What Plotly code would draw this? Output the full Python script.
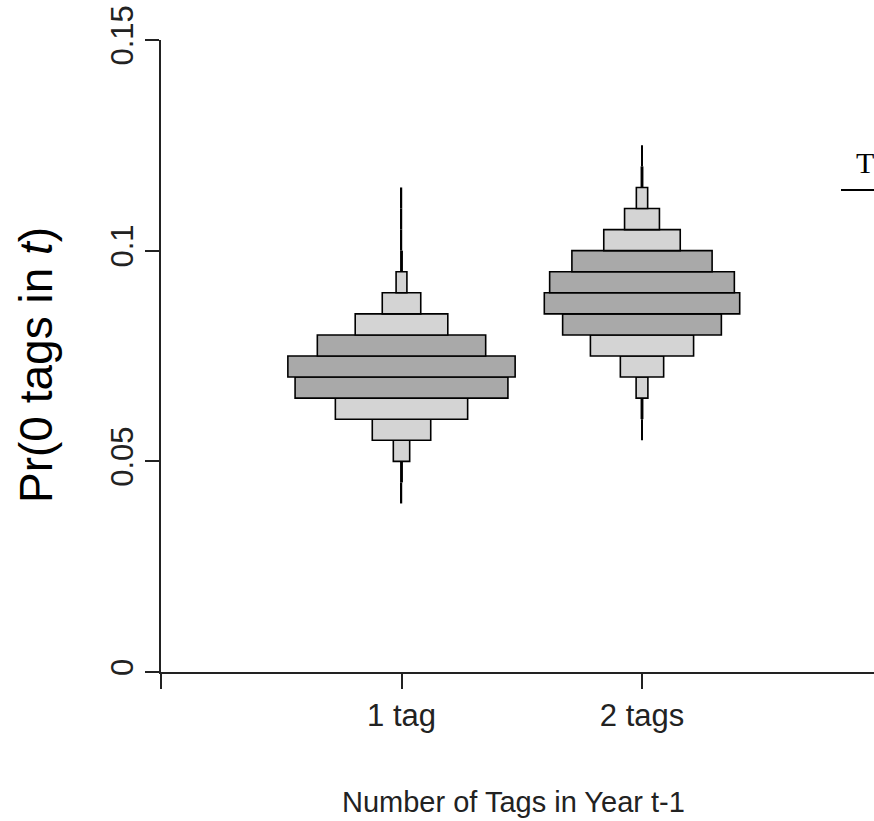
import plotly.graph_objects as go

# Histogram bins of posterior draws for Pr(0 tags in t), bin width 0.005
bin_width = 0.005

categories = ["1 tag", "2 tags"]
cat_pos = [1, 2]

# lower edge of each bin
bins_1tag = [0.040, 0.045, 0.050, 0.055, 0.060, 0.065, 0.070, 0.075,
             0.080, 0.085, 0.090, 0.095, 0.100, 0.105, 0.110]
bins_2tags = [0.055, 0.060, 0.065, 0.070, 0.075, 0.080, 0.085, 0.090,
              0.095, 0.100, 0.105, 0.110, 0.115, 0.120]

# relative density of each bin (drawn as the full horizontal width of the box)
density_1tag = [0.006, 0.012, 0.068, 0.243, 0.550, 0.885, 0.945, 0.700,
                0.385, 0.160, 0.045, 0.012, 0.006, 0.006, 0.006]
density_2tags = [0.006, 0.012, 0.049, 0.180, 0.429, 0.660, 0.8125, 0.768,
                 0.583, 0.318, 0.145, 0.047, 0.012, 0.006]

# central interval shaded darker
central_1tag = (0.065, 0.080)
central_2tags = (0.080, 0.100)

y_ticks = [0, 0.05, 0.1, 0.15]
y_ticktext = ["0", "0.05", "0.1", "0.15"]

DARK = "#a9a9a9"
LIGHT = "#d4d4d4"
TAIL = 0.02  # bins narrower than this are drawn as solid black spikes

fig = go.Figure()


def add_violin(pos, lows, dens, central):
    mids, widths, bases, fills, lws = [], [], [], [], []
    for lo, d in zip(lows, dens):
        mids.append(lo + bin_width / 2)
        widths.append(d)
        bases.append(pos - d / 2)
        if d < TAIL:
            fills.append("black")
            lws.append(0)
        elif central[0] - 1e-9 <= lo < central[1] - 1e-9:
            fills.append(DARK)
            lws.append(1.6)
        else:
            fills.append(LIGHT)
            lws.append(1.6)
    fig.add_trace(go.Bar(
        orientation="h", y=mids, x=widths, base=bases, width=bin_width,
        marker=dict(color=fills, line=dict(color="black", width=lws)),
        showlegend=False, hoverinfo="skip",
    ))


add_violin(cat_pos[0], bins_1tag, density_1tag, central_1tag)
add_violin(cat_pos[1], bins_2tags, density_2tags, central_2tags)

W, H = 874, 821
L, T, B = 161, 40, 149
px_per_unit = 240.5
x_max = (W - L) / px_per_unit

fig.update_layout(
    width=W, height=H,
    margin=dict(l=L, r=0, t=T, b=B, pad=0),
    paper_bgcolor="white", plot_bgcolor="white",
    barmode="overlay",
    font=dict(family="Liberation Sans, Arial, sans-serif", color="#222"),
    xaxis=dict(
        range=[0, x_max], showgrid=False, zeroline=False,
        showline=True, linecolor="#222", linewidth=1.5,
        ticks="outside", ticklen=15, tickwidth=1.5, tickcolor="#222",
        tickvals=[0] + cat_pos, ticktext=[""] + categories,
        tickfont=dict(size=31),
    ),
    yaxis=dict(
        range=[0, 0.15], showgrid=False, zeroline=False,
        showline=True, linecolor="#222", linewidth=1.5,
        ticks="outside", ticklen=14, tickwidth=1.5, tickcolor="#222",
        tickvals=y_ticks, ticktext=y_ticktext, tickangle=-90,
        tickfont=dict(size=31),
    ),
)

plot_w = W - L
plot_h = H - T - B

# axis titles
fig.add_annotation(
    text="Number of Tags in Year t-1", xref="paper", yref="paper",
    x=(513 - L) / plot_w, y=(H - B - 802) / plot_h,
    xanchor="center", yanchor="middle", showarrow=False,
    font=dict(size=29, color="#222"),
)
fig.add_annotation(
    text="Pr(0 tags in <i>t</i>)", xref="paper", yref="paper",
    x=(36 - L) / plot_w, y=(H - B - 365) / plot_h,
    xanchor="center", yanchor="middle", textangle=-90, showarrow=False,
    font=dict(size=46, color="black"),
)

# heading at the right margin
fig.add_annotation(
    text="T", xref="paper", yref="paper",
    x=(854 - L) / plot_w, y=(H - B - 162) / plot_h,
    xanchor="left", yanchor="middle", showarrow=False,
    font=dict(size=30, family="Liberation Serif, Times New Roman, serif", color="black"),
)
fig.add_shape(
    type="line", xref="paper", yref="paper",
    x0=(841 - L) / plot_w, x1=1.05, y0=(H - B - 190) / plot_h, y1=(H - B - 190) / plot_h,
    line=dict(color="black", width=2),
)

fig.write_html("out.html")
